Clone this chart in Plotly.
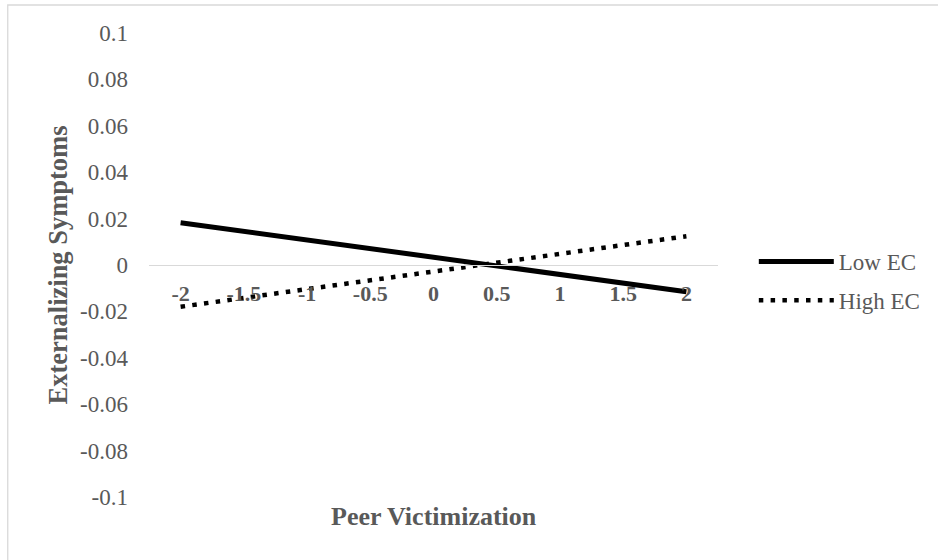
import plotly.graph_objects as go

# Data
peer_victimization = [-2, -1.5, -1, -0.5, 0, 0.5, 1, 1.5, 2]
low_ec = [0.0182, 0.0145, 0.0108, 0.0071, 0.0034, -0.0004, -0.0041, -0.0078, -0.0115]
high_ec = [-0.0180, -0.0142, -0.0104, -0.0066, -0.0028, 0.0010, 0.0048, 0.0086, 0.0124]
x_tick_labels = ["-2", "-1.5", "-1", "-0.5", "0", "0.5", "1", "1.5", "2"]
y_ticks = [-0.1, -0.08, -0.06, -0.04, -0.02, 0, 0.02, 0.04, 0.06, 0.08, 0.1]
y_tick_labels = ["-0.1", "-0.08", "-0.06", "-0.04", "-0.02", "0", "0.02", "0.04", "0.06", "0.08", "0.1"]

GRAY = "#595959"
FONT = "Liberation Serif, Times New Roman, serif"

fig = go.Figure()
fig.add_trace(go.Scatter(
    x=peer_victimization, y=low_ec, mode="lines", name="Low EC",
    legendgroup="low",
    line=dict(color="black", width=5),
))
fig.add_trace(go.Scatter(
    x=peer_victimization, y=high_ec, mode="lines", name="High EC",
    legendgroup="high",
    line=dict(color="black", width=4.5, dash="4.5px,7.3px"),
))

L, R, T, B = 149, 217, 33, 63
W, H = 938, 560
pw, ph = W - L - R, H - T - B

fig.update_layout(
    width=W, height=H,
    margin=dict(l=L, r=R, t=T, b=B, pad=0),
    plot_bgcolor="white", paper_bgcolor="white",
    font=dict(family=FONT, color=GRAY, size=23),
    showlegend=True,
    legend=dict(
        x=(757 - L) / pw, y=(H - B - 240) / ph, xanchor="left", yanchor="top",
        font=dict(family=FONT, size=23, color=GRAY),
        itemwidth=75, tracegroupgap=6, bgcolor="rgba(0,0,0,0)",
    ),
    xaxis=dict(
        range=[-2.25, 2.25], anchor="free", position=0.5,
        tickmode="array", tickvals=peer_victimization, ticktext=x_tick_labels,
        showline=True, linecolor="#d9d9d9", linewidth=1.3,
        showgrid=False, zeroline=False, ticks="",
        tickfont=dict(family=FONT, size=22, color=GRAY, weight="bold"),
        ticklabelstandoff=8,
    ),
    yaxis=dict(
        range=[-0.1, 0.1],
        tickmode="array", tickvals=y_ticks, ticktext=y_tick_labels,
        showline=False, showgrid=False, zeroline=False, ticks="",
        tickfont=dict(family=FONT, size=23, color=GRAY),
        ticklabelstandoff=20,
    ),
)

fig.add_annotation(
    text="<b>Peer Victimization</b>", xref="paper", yref="paper",
    x=0.5, y=(H - B - 516) / ph, xanchor="center", yanchor="middle",
    showarrow=False, font=dict(family=FONT, size=26, color=GRAY),
)
fig.add_annotation(
    text="<b>Externalizing Symptoms</b>", xref="paper", yref="paper",
    x=(58 - L) / pw, y=(H - B - 265) / ph, xanchor="center", yanchor="middle",
    textangle=-90, showarrow=False, font=dict(family=FONT, size=26.5, color=GRAY),
)

# chart border
fig.add_shape(
    type="rect", xref="paper", yref="paper",
    x0=(7 - L) / pw, x1=(W + 5 - L) / pw,
    y0=(H - B - (H + 5)) / ph, y1=(H - B - 5) / ph,
    line=dict(color="#d9d9d9", width=1.3), fillcolor="rgba(0,0,0,0)", layer="below",
)

fig.write_html("out.html", config={"displayModeBar": False},
               post_script="document.body.style.margin='0';")
